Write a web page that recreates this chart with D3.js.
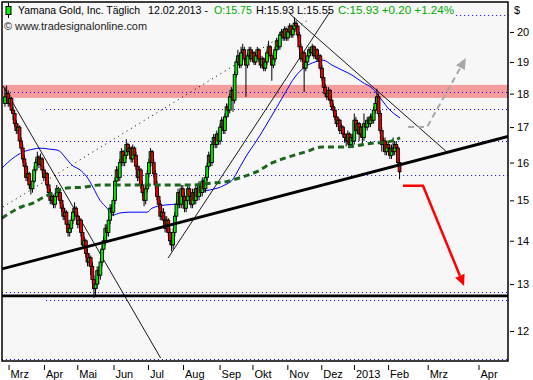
<!DOCTYPE html>
<html>
<head>
<meta charset="utf-8">
<script src="https://cdn.jsdelivr.net/npm/d3@7"></script>
<style>
  body { margin: 0; background: #fff; }
  svg { display: block; font-family: "Liberation Sans", Arial, sans-serif; }
</style>
</head>
<body>
<svg id="chart" width="533" height="380"></svg>
<script>
// daily bars, index 0 = first bar on the left
const firstOpen = 17.7;
const closes = [
  17.9,18.0,17.7,17.85,17.5,17.4,17.1,16.9,17.0,16.6,
  16.4,16.1,15.9,15.6,15.7,15.4,15.3,15.5,15.8,16.0,
  16.15,15.95,16.1,15.8,15.6,15.7,15.4,15.2,15.0,15.1,
  14.9,15.1,15.3,15.2,15.0,14.8,14.6,14.7,14.4,14.2,
  14.3,14.5,14.7,14.8,14.6,14.4,14.5,14.2,13.9,14.0,
  13.7,13.5,13.6,13.4,13.1,12.9,13.0,13.3,13.2,13.5,
  13.8,14.0,14.3,14.2,14.5,14.8,14.7,15.0,15.5,15.8,
  15.6,16.0,16.3,16.0,16.2,16.5,16.3,16.4,16.1,16.4,
  16.2,15.9,15.6,15.8,15.4,15.2,15.0,15.3,15.7,16.0,
  16.3,16.0,15.7,15.4,15.1,14.9,14.6,14.7,14.5,14.3,
  14.5,14.2,14.0,13.9,14.2,14.6,14.9,15.2,14.9,15.3,
  15.1,14.8,15.0,15.3,15.1,14.9,15.2,15.0,15.3,15.1,
  15.4,15.2,15.5,15.3,15.6,15.9,16.2,16.0,16.5,16.7,
  16.5,16.8,16.6,17.0,17.2,16.9,17.3,17.6,17.5,17.9,
  18.1,17.8,18.6,19.0,19.2,18.9,19.3,19.4,19.1,18.9,
  19.2,19.4,19.1,19.3,19.0,19.2,19.4,19.1,18.9,19.1,
  18.8,19.0,19.3,19.5,19.2,18.9,19.1,19.4,19.7,19.5,
  19.9,20.0,19.8,20.1,19.8,20.0,20.2,19.9,20.1,20.3,
  20.2,19.9,19.5,19.1,19.3,18.8,19.0,19.2,19.4,19.3,
  19.5,19.2,19.4,19.1,19.2,18.8,18.5,18.2,18.0,17.9,
  18.1,17.8,17.6,17.5,17.3,17.1,17.2,16.9,17.0,16.8,
  16.7,16.6,16.8,16.5,16.7,16.6,17.2,16.9,17.1,16.8,
  17.0,16.7,17.1,17.0,17.2,17.1,17.3,17.2,17.5,17.7,
  17.9,17.4,16.9,16.5,16.6,16.3,16.5,16.4,16.2,16.4,
  16.3,16.5,16.4,16.0,15.75
];
const highs = [
  18.2,18.25,18.1,17.95,17.9,17.6,17.5,17.2,17.1,17.05,
  16.7,16.5,16.2,16.0,15.85,15.75,15.5,15.6,15.9,16.1,
  16.3,16.2,16.25,16.15,15.9,15.8,15.75,15.5,15.3,15.2,
  15.15,15.2,15.4,15.35,15.25,15.1,14.9,14.8,14.75,14.5,
  14.4,14.6,14.8,14.95,14.85,14.7,14.6,14.55,14.3,14.1,
  14.05,13.8,13.7,13.65,13.5,13.2,13.1,13.4,13.4,13.6,
  13.9,14.1,14.4,14.4,14.6,14.9,14.9,15.1,15.6,15.9,
  15.9,16.1,16.4,16.35,16.3,16.65,16.55,16.5,16.45,16.5,
  16.45,16.3,16.0,15.9,15.85,15.5,15.3,15.4,15.8,16.1,
  16.4,16.35,16.1,15.8,15.5,15.2,15.0,14.8,14.8,14.6,
  14.6,14.55,14.3,14.1,14.3,14.7,15.0,15.3,15.25,15.4,
  15.4,15.2,15.1,15.4,15.35,15.2,15.3,15.3,15.4,15.35,
  15.5,15.45,15.6,15.55,15.7,16.0,16.3,16.3,16.6,16.8,
  16.8,16.9,16.85,17.1,17.3,17.25,17.4,17.7,17.7,18.0,
  18.2,18.15,18.7,19.1,19.4,19.3,19.5,19.6,19.5,19.2,
  19.3,19.5,19.5,19.4,19.35,19.3,19.5,19.45,19.2,19.2,
  19.15,19.1,19.4,19.7,19.55,19.3,19.2,19.5,19.8,19.8,
  20.0,20.1,20.1,20.2,20.15,20.1,20.3,20.25,20.2,20.5,
  20.4,20.25,20.0,19.6,19.4,19.35,19.1,19.3,19.5,19.5,
  19.6,19.55,19.5,19.45,19.3,19.25,18.9,18.6,18.3,18.1,
  18.2,18.15,17.9,17.7,17.6,17.4,17.3,17.25,17.1,17.05,
  16.9,16.8,16.9,16.85,16.8,16.8,17.4,17.3,17.2,17.15,
  17.1,17.05,17.4,17.2,17.3,17.3,17.4,17.4,17.6,17.9,
  18.15,18.0,17.5,17.0,16.7,16.7,16.6,16.6,16.5,16.5,
  16.7,16.6,16.6,16.45,16.1
];
const lows = [
  17.6,17.8,17.6,17.6,17.4,17.2,17.0,16.8,16.8,16.5,
  16.3,16.0,15.8,15.5,15.5,15.3,15.15,15.2,15.45,15.7,
  15.9,15.85,15.9,15.7,15.5,15.5,15.3,15.1,14.9,14.9,
  14.8,14.8,15.0,15.1,14.9,14.7,14.5,14.5,14.3,14.1,
  14.1,14.2,14.4,14.6,14.5,14.3,14.3,14.1,13.8,13.8,
  13.6,13.4,13.4,13.2,13.0,12.7,12.75,12.9,13.0,13.1,
  13.4,13.7,13.9,14.1,14.1,14.4,14.6,14.6,14.9,15.4,
  15.5,15.5,15.9,15.9,15.9,16.1,16.2,16.2,16.0,16.0,
  16.1,15.8,15.5,15.5,15.3,15.1,14.85,14.9,15.2,15.6,
  15.9,15.9,15.6,15.3,15.0,14.8,14.5,14.5,14.4,14.2,
  14.2,14.1,13.9,13.75,13.8,14.1,14.5,14.8,14.8,14.8,
  15.0,14.7,14.7,14.9,15.0,14.8,14.8,14.9,14.9,15.0,
  15.0,15.1,15.1,15.2,15.2,15.5,15.8,15.9,15.9,16.4,
  16.4,16.4,16.5,16.5,16.9,16.8,16.8,17.2,17.3,17.4,
  17.8,17.45,17.7,18.5,18.9,18.8,18.8,19.2,19.0,17.9,
  18.8,19.1,19.0,19.0,18.9,18.9,19.1,19.0,18.8,18.8,
  18.7,18.7,18.9,19.2,19.1,18.4,18.8,19.0,19.3,19.4,
  19.4,19.8,19.7,19.7,19.7,19.7,19.9,19.8,19.8,20.0,
  20.0,19.8,19.4,19.0,19.0,18.05,18.7,18.9,19.1,19.2,
  19.2,19.1,19.1,19.0,19.0,18.7,18.4,18.1,17.9,17.8,
  17.8,17.7,17.5,17.4,17.2,17.0,17.0,16.8,16.8,16.7,
  16.55,16.45,16.5,16.4,16.4,16.4,16.5,16.8,16.8,16.6,
  16.7,16.5,16.6,16.9,16.9,17.0,17.0,17.1,17.1,17.4,
  17.6,17.3,16.8,16.3,16.3,16.2,16.2,16.3,16.1,16.1,
  16.2,16.2,16.3,15.9,15.55
];

// month ticks (bar index) and labels
const monthTicks = [2.2, 24.1, 44.7, 67.1, 88.4, 110.1, 132.7, 153, 174.6, 195.6, 215.8, 236.9, 261.4, 292.8];
const monthLabels = ["Mrz", "Apr", "Mai", "Jun", "Jul", "Aug", "Sep", "Okt", "Nov", "Dez", "2013", "Feb", "Mrz", "Apr"];
const priceTicks = [12, 13, 14, 15, 16, 17, 18, 19, 20];

// header pieces: text, colour
const headerParts = [
  ["Yamana Gold, Inc. Täglich", "#000"],
  ["12.02.2013 -", "#000"],
  ["O:15.75", "#00aa00"],
  ["H:15.93", "#000"],
  ["L:15.55", "#000"],
  ["C:15.93 +0.20 +1.24%", "#00aa00"]
];

// moving averages: [bar index, price]
const blueAvg = [
  [-1.9,15.85],[4.9,16.12],[11.1,16.29],[17.3,16.37],[21.6,16.4],[27.8,16.37],[32.8,16.34],
  [37.1,16.15],[41.4,15.93],[46.4,15.8],[50.7,15.61],[54.4,15.34],[58.8,15.0],[63.1,14.8],
  [66.8,14.63],[71.1,14.68],[77.3,14.7],[87.8,14.7],[90.9,14.8],[98.9,14.88],[107,14.91],
  [115.6,15.08],[119.4,15.19],[125.5,15.26],[131.7,15.32],[136,15.4],[140.4,15.52],
  [145.3,15.88],[150.3,16.26],[154.6,16.54],[160.8,17.0],[167,17.5],[173.2,18.02],
  [179.3,18.52],[185.5,18.84],[191.7,19.0],[196.7,19.06],[202.2,18.9],[208.4,18.74],
  [214.6,18.58],[220.8,18.36],[227,18.17],[233.1,17.8],[236.9,17.56],[244.3,17.27]
];
const greenAvg = [
  [-1.9,14.55],[3.1,14.68],[11.1,14.85],[17.3,14.93],[22.9,15.06],[27.8,15.16],[32.8,15.26],
  [38.3,15.32],[48.2,15.34],[58.8,15.4],[77.3,15.4],[94.6,15.4],[115.6,15.4],[128,15.45],
  [136,15.48],[146.6,15.61],[156.5,15.77],[165.1,15.99],[175,16.15],[185.5,16.29],
  [196,16.43],[206,16.43],[216.5,16.46],[227,16.54],[236.2,16.57],[244.3,16.69]
];

// drawn trend lines: [bar index, price] end points
const thinLines = [
  [[-1.24,18.24],[96.2,11.46]],
  [[100.8,13.59],[201,20.7]],
  [[176.3,20.62],[273.3,16.29]]
];
const dottedLine = [[-1.24,14.83],[188.6,20.45]];
const supportLine = [[-1.9,13.34],[311,16.73]];
const floorLevel = 12.74;
const resistBand = [17.87, 18.27];
// blue dotted levels: [price, first bar index]
const dotLevels = [[20.59,279],[18.04,-1.9],[17.53,25.4],[16.6,25.4],[15.66,31],[12.82,-1.9],[12.65,25.4],[11.44,-1.9]];
const grayArrow = [[249.2,17.0],[261,17.0],[285,19.13]];
const redArrow = [[246.1,15.38],[258.5,15.38],[283.9,12.96]];

const svg = d3.select("#chart");
const L = 2, T = 2, R = 508, B = 361;

const x = d3.scaleLinear().domain([-1.855, 311.06]).range([L, R]);
const y = d3.scaleLog().domain([11.40, 21.05]).range([B, T]);

svg.append("rect").attr("x", L).attr("y", T).attr("width", R - L).attr("height", B - T)
  .attr("fill", "#f7f7f7");

svg.append("clipPath").attr("id", "clip")
  .append("rect").attr("x", L).attr("y", T).attr("width", R - L).attr("height", B - T);
const g = svg.append("g").attr("clip-path", "url(#clip)");

// resistance band
g.append("rect")
  .attr("x", L).attr("width", R - L)
  .attr("y", y(resistBand[1])).attr("height", y(resistBand[0]) - y(resistBand[1]))
  .attr("fill", "#f59c9c");

// dotted levels
g.selectAll(".lvl").data(dotLevels).join("line")
  .attr("x1", d => x(d[1])).attr("x2", R)
  .attr("y1", d => Math.round(y(d[0])) + 0.5).attr("y2", d => Math.round(y(d[0])) + 0.5)
  .attr("stroke", "#0000ee").attr("stroke-width", 1).attr("stroke-dasharray", "1 3");

// rising dotted line
g.append("line")
  .attr("x1", x(dottedLine[0][0])).attr("y1", y(dottedLine[0][1]))
  .attr("x2", x(dottedLine[1][0])).attr("y2", y(dottedLine[1][1]))
  .attr("stroke", "#000").attr("stroke-width", 1).attr("stroke-dasharray", "1 4");

// blue average
const line = d3.line().x(d => x(d[0])).y(d => y(d[1])).curve(d3.curveMonotoneX);
g.append("path").datum(blueAvg).attr("d", line)
  .attr("fill", "none").attr("stroke", "#0000ff").attr("stroke-width", 1);

// thin trend lines
g.selectAll(".thin").data(thinLines).join("line")
  .attr("x1", d => x(d[0][0])).attr("y1", d => y(d[0][1]))
  .attr("x2", d => x(d[1][0])).attr("y2", d => y(d[1][1]))
  .attr("stroke", "#000").attr("stroke-width", 0.9);

// candles
const bars = closes.map((c, i) => ({
  i, o: i === 0 ? firstOpen : closes[i - 1], c, h: highs[i], l: lows[i]
}));
const cg = g.append("g");
cg.selectAll(".wick").data(bars).join("line")
  .attr("x1", d => x(d.i)).attr("x2", d => x(d.i))
  .attr("y1", d => y(d.h)).attr("y2", d => y(d.l))
  .attr("stroke", "#000").attr("stroke-width", 1);
cg.selectAll(".body").data(bars).join("rect")
  .attr("x", d => x(d.i) - 1.4).attr("width", 2.8)
  .attr("y", d => y(Math.max(d.o, d.c)))
  .attr("height", d => Math.max(1, Math.abs(y(d.o) - y(d.c))))
  .attr("fill", d => d.c >= d.o ? "#00ee00" : "#ee0000")
  .attr("stroke", "#000").attr("stroke-width", 0.9);

// green long average (dashed)
g.append("path").datum(greenAvg).attr("d", line)
  .attr("fill", "none").attr("stroke", "#1a661a").attr("stroke-width", 3)
  .attr("stroke-dasharray", "6 4");

// thick support and floor
g.append("line")
  .attr("x1", x(supportLine[0][0])).attr("y1", y(supportLine[0][1]))
  .attr("x2", x(supportLine[1][0])).attr("y2", y(supportLine[1][1]))
  .attr("stroke", "#000").attr("stroke-width", 2.8);
g.append("line")
  .attr("x1", L).attr("x2", R).attr("y1", y(floorLevel)).attr("y2", y(floorLevel))
  .attr("stroke", "#000").attr("stroke-width", 2.8);

// arrows
function arrow(pts, color, width, dash) {
  const p = pts.map(d => [x(d[0]), y(d[1])]);
  const n = p.length;
  const dx = p[n - 1][0] - p[n - 2][0], dy = p[n - 1][1] - p[n - 2][1];
  const len = Math.hypot(dx, dy), ux = dx / len, uy = dy / len;
  const tip = p[n - 1], hl = 11, hw = 5;
  const base = [tip[0] - ux * hl, tip[1] - uy * hl];
  const shaft = p.slice(0, n - 1).concat([base]);
  g.append("path").attr("d", d3.line()(shaft))
    .attr("fill", "none").attr("stroke", color).attr("stroke-width", width)
    .attr("stroke-dasharray", dash || null);
  g.append("path")
    .attr("d", d3.line()([tip, [base[0] - uy * hw, base[1] + ux * hw], [base[0] + uy * hw, base[1] - ux * hw]]) + "Z")
    .attr("fill", color);
}
arrow(grayArrow, "#a8a8a8", 2, "6 4");
arrow(redArrow, "#ff0000", 2.5);

// frame
svg.append("rect").attr("x", L).attr("y", T).attr("width", R - L).attr("height", B - T)
  .attr("fill", "none").attr("stroke", "#000").attr("stroke-width", 1.5);

// header: each piece squeezed into the width it takes in the original
const headerX = [18, 148, 214, 256, 297, 338];
const headerW = [122, 60, 38, 38, 37, 116];
svg.selectAll(".head").data(headerParts).join("text")
  .attr("x", (d, i) => headerX[i]).attr("y", 14)
  .attr("font-size", 11.5).attr("fill", d => d[1])
  .attr("textLength", (d, i) => headerW[i]).attr("lengthAdjust", "spacingAndGlyphs")
  .text(d => d[0]);
svg.append("line").attr("x1", 8.5).attr("x2", 8.5).attr("y1", 3).attr("y2", 18).attr("stroke", "#000");
svg.append("rect").attr("x", 6).attr("y", 6.5).attr("width", 5).attr("height", 8)
  .attr("fill", "#00ee00").attr("stroke", "#000").attr("stroke-width", 1);
svg.append("text").attr("x", 4).attr("y", 30).attr("font-size", 11.5).attr("fill", "#222")
  .attr("textLength", 143).attr("lengthAdjust", "spacingAndGlyphs")
  .text("© www.tradesignalonline.com");

// axes
const xAxis = svg.append("g").attr("transform", `translate(0,${B + 4})`)
  .call(d3.axisBottom(x).tickValues(monthTicks).tickSize(5).tickPadding(0)
    .tickFormat((d, i) => monthLabels[i]));
xAxis.select(".domain").remove();
xAxis.selectAll("text").attr("text-anchor", "start").attr("x", 1.5)
  .attr("font-size", 11).attr("font-family", null).attr("fill", "#000");
xAxis.selectAll("line").attr("stroke", "#000");

const yAxis = svg.append("g").attr("transform", `translate(${R + 2},0)`)
  .call(d3.axisRight(y).tickValues(priceTicks).tickSize(4).tickPadding(3).tickFormat(d3.format("d")));
yAxis.select(".domain").remove();
yAxis.selectAll("text").attr("font-size", 11).attr("font-family", null).attr("fill", "#000");
yAxis.selectAll("line").attr("stroke", "#000");
svg.append("text").attr("x", 514).attr("y", 14).attr("font-size", 11).text("$");
</script>
</body>
</html>
